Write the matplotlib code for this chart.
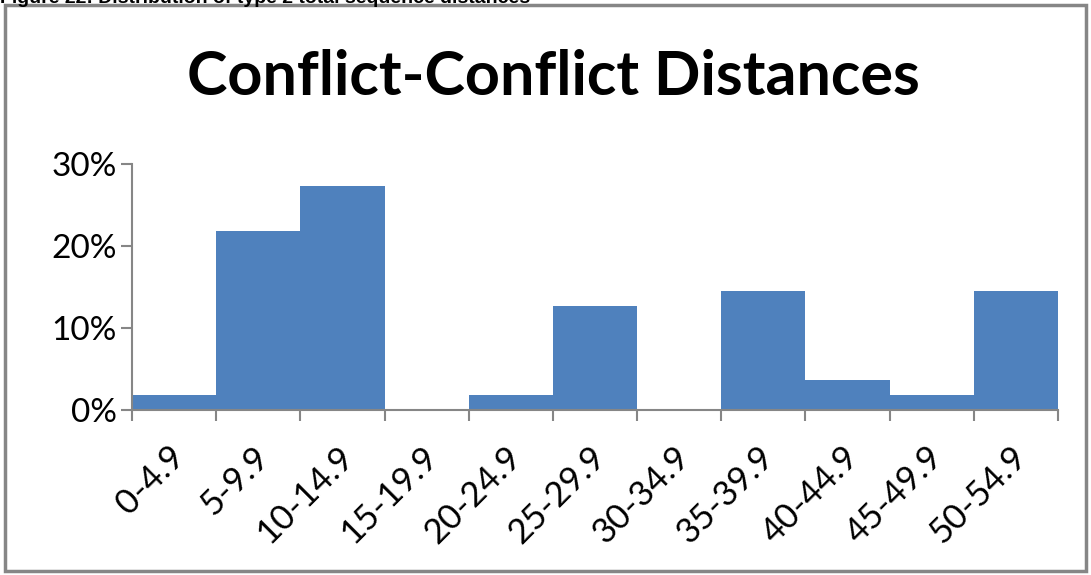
#!/bin/env python3

'''
Histogram of conflict-conflict distances (percent of sequences per bin)
'''

import numpy as np
import matplotlib.pyplot as plt
import matplotlib.transforms as mtransforms
from matplotlib.patches import Rectangle
from matplotlib.ticker import FuncFormatter

##############################################################
# Data
##############################################################
bins = ["0-4.9", "5-9.9", "10-14.9", "15-19.9", "20-24.9", "25-29.9",
        "30-34.9", "35-39.9", "40-44.9", "45-49.9", "50-54.9"]
share = [1.8, 21.8, 27.3, 0.0, 1.8, 12.7, 0.0, 14.5, 3.6, 1.8, 14.5]

caption = "Figure 22: Distribution of type 2 total sequence distances"
title = "Conflict-Conflict Distances"

##############################################################
# Plot
##############################################################
grey = "#868686"
blue = "#4F81BD"
font = ["Lato", "DejaVu Sans"]

fig = plt.figure(figsize=(10.91, 5.75), dpi=100)
ax = fig.add_axes([132 / 1091, 1 - 410 / 575, 926 / 1091, 246 / 575])

x = np.arange(len(bins))
ax.bar(x, share, width=1.0, color=blue, edgecolor="none")

ax.set_xlim(-0.5, len(bins) - 0.5)
ax.set_ylim(0, 30)
ax.set_yticks([0, 10, 20, 30])
ax.yaxis.set_major_formatter(FuncFormatter(lambda v, p: "%d%%" % v))

# tick marks on the bin edges, labels centred under each bar
ax.set_xticks(np.arange(len(bins) + 1) - 0.5)
ax.set_xticklabels([])
ax.set_xticks(x, minor=True)
ax.set_xticklabels(bins, minor=True, rotation=45, ha="right", va="top",
                   fontsize=25, family=font)
ax.tick_params(axis="x", which="minor", length=0, pad=22)
ax.tick_params(axis="x", which="major", length=8, width=1.5, color=grey)
ax.tick_params(axis="y", length=8, width=1.5, color=grey, pad=3,
               labelsize=24)
for lbl in ax.get_yticklabels():
    lbl.set_family(font)

# nudge rotated labels right so they end just past the bar centre
shift = mtransforms.ScaledTranslation(17 / 100, 0, fig.dpi_scale_trans)
for lbl in ax.get_xticklabels(minor=True):
    lbl.set_transform(lbl.get_transform() + shift)

for side in ["top", "right"]:
    ax.spines[side].set_visible(False)
for side in ["left", "bottom"]:
    ax.spines[side].set_color(grey)
    ax.spines[side].set_linewidth(1.5)

fig.text(553 / 1091, 1 - 77 / 575, title, ha="center", va="center",
         fontsize=44, fontweight="bold", family=font)

# caption of the page, cut off by the top of the image
fig.text(0.0, 1 - 3 / 575, caption, ha="left", va="baseline",
         fontsize=14, fontweight="bold", family="Liberation Sans")

fig.patches.append(Rectangle((5 / 1091, 4 / 575), 1081 / 1091, 566 / 575,
                             transform=fig.transFigure, fill=False,
                             edgecolor=grey, linewidth=2.5))

fig.savefig("out.png", dpi=100)
